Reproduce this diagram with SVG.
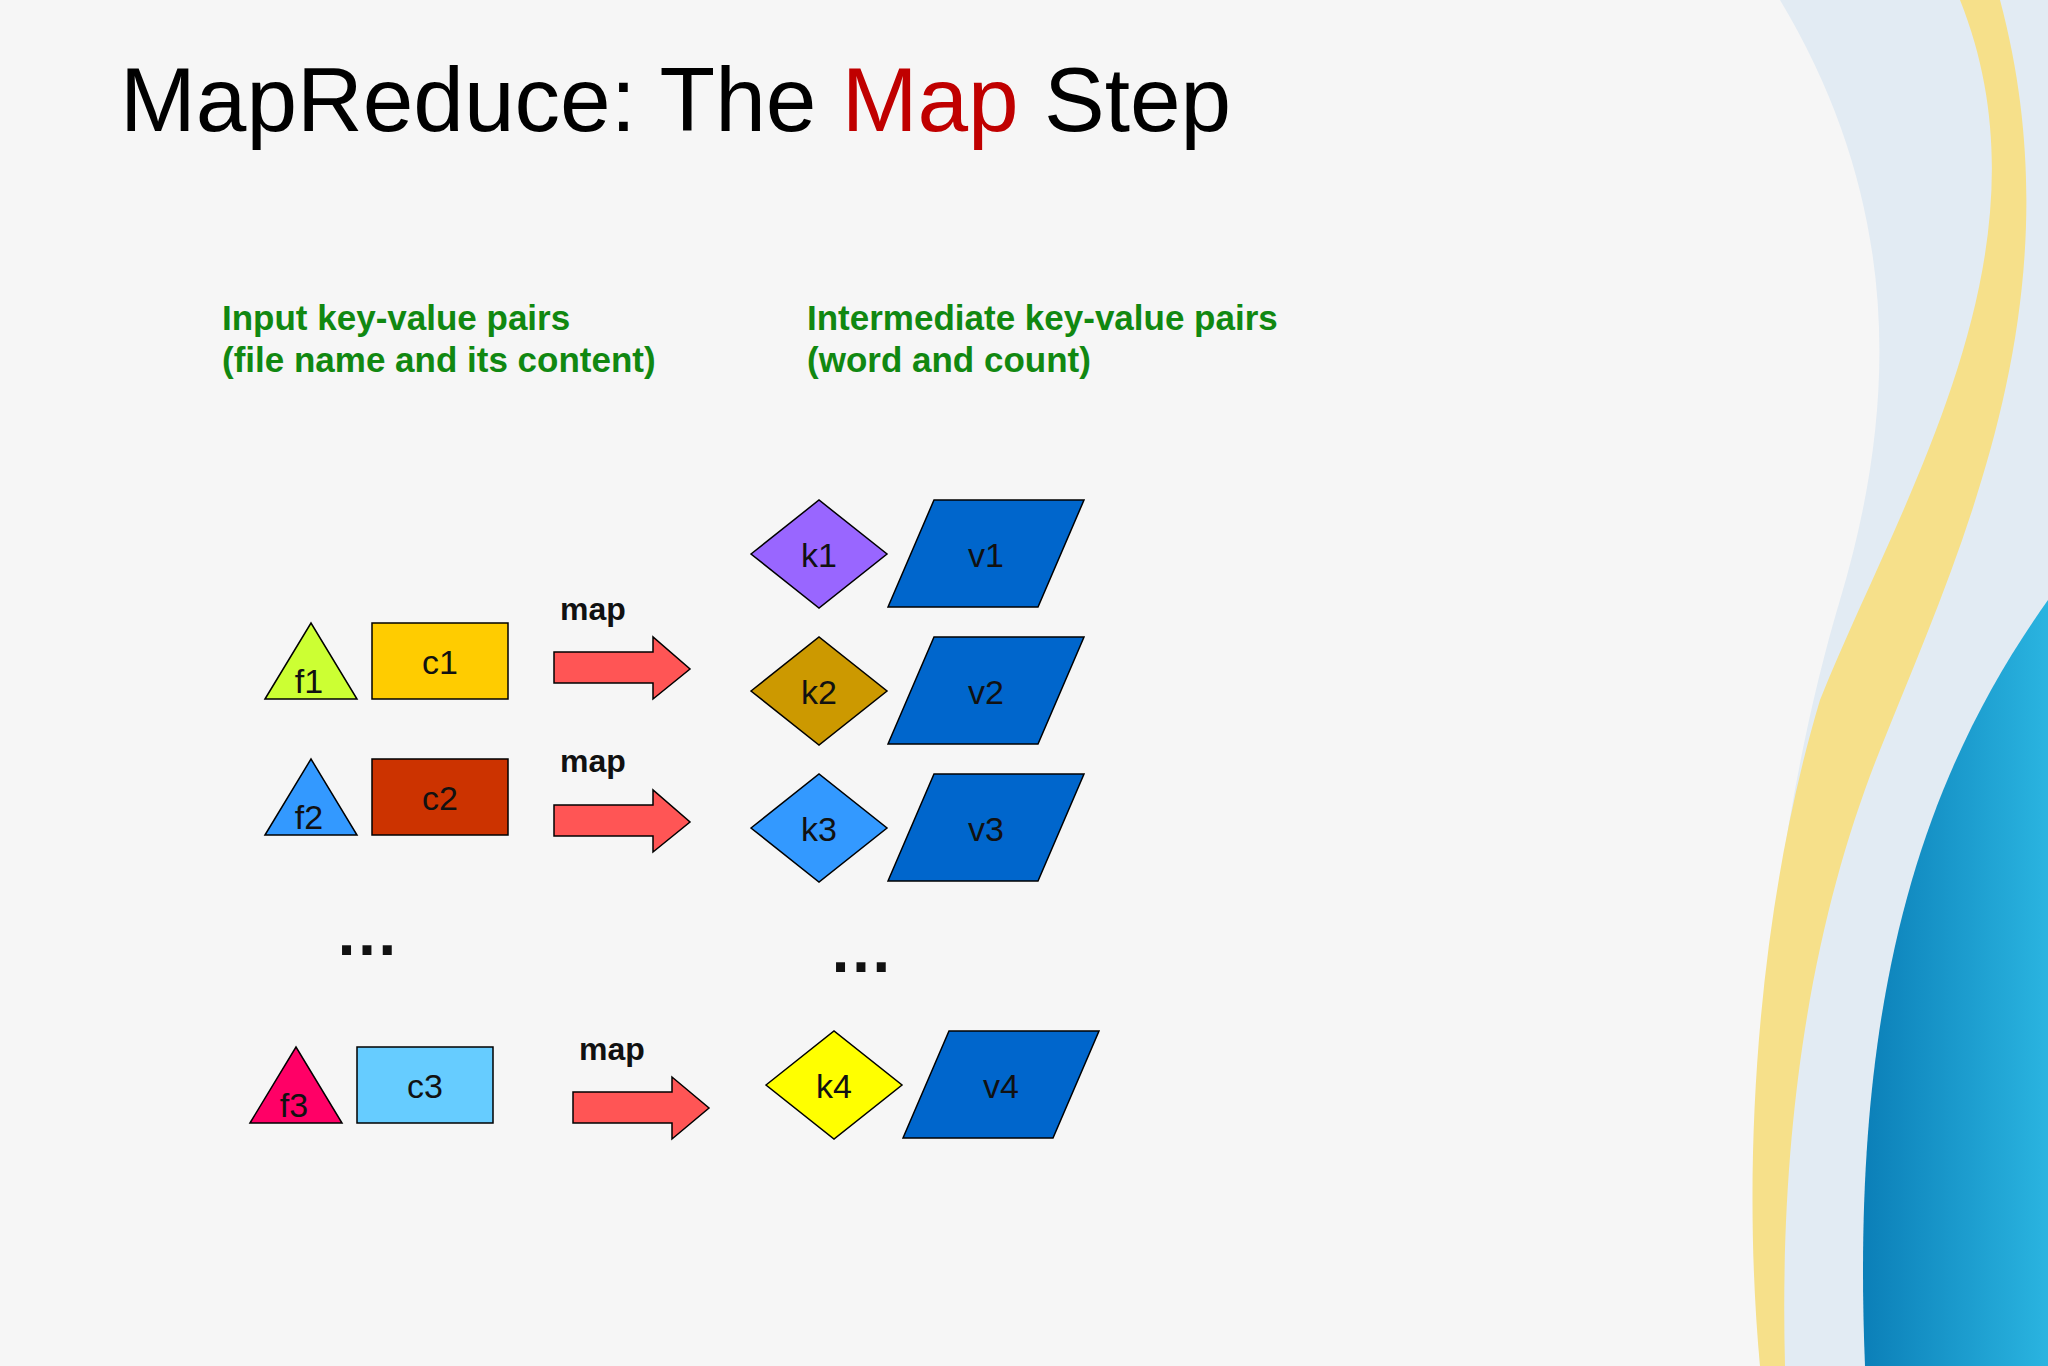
<svg xmlns="http://www.w3.org/2000/svg" width="2048" height="1366" viewBox="0 0 2048 1366">
<defs>
<linearGradient id="bl" x1="0" y1="0" x2="1" y2="0"><stop offset="0" stop-color="#0b7fb8"/><stop offset="1" stop-color="#2ab4e0"/></linearGradient>
<style>
.s{stroke:#000;stroke-width:1.5}
.t{font-family:"Liberation Sans",Arial,sans-serif;font-size:34px;fill:#111;text-anchor:middle}
.g{font-family:"Liberation Sans",Arial,sans-serif;font-size:35px;font-weight:bold;fill:#118811}
.m{font-family:"Liberation Sans",Arial,sans-serif;font-size:32px;font-weight:bold;fill:#111;text-anchor:middle}
.d{font-family:"Liberation Sans",Arial,sans-serif;font-size:64px;font-weight:bold;fill:#111;text-anchor:middle}
.v{fill:#0066cc}
.a{fill:#ff5555}
</style>
</defs>
<rect width="2048" height="1366" fill="#f6f6f6"/>
<path d="M1780 0 C1900 200 1900 400 1840 600 C1780 800 1740 1100 1760 1366 L2048 1366 L2048 0 Z" fill="#e2ebf3"/>
<path d="M1960 0 C2060 250 1900 500 1820 700 C1760 900 1740 1150 1760 1366 L1785 1366 C1778 1100 1820 900 1880 750 C1960 550 2080 300 2000 0 Z" fill="#f6e08a"/>
<path d="M2048 600 C1920 780 1850 1000 1865 1366 L2048 1366 Z" fill="url(#bl)"/>
<text x="120" y="131" font-family="Liberation Sans,Arial,sans-serif" font-size="91" fill="#000">MapReduce: The <tspan fill="#c00000">Map</tspan> Step</text>
<text class="g" x="222" y="330">Input key-value pairs</text>
<text class="g" x="222" y="372">(file name and its content)</text>
<text class="g" x="807" y="330">Intermediate key-value pairs</text>
<text class="g" x="807" y="372">(word and count)</text>
<g id="connectors">
<polygon class="a s" points="554,652 653,652 653,637 690,669 653,699 653,683 554,683"/>
<polygon class="a s" points="554,805 653,805 653,790 690,822 653,852 653,836 554,836"/>
<polygon class="a s" points="573,1092 672,1092 672,1077 709,1108 672,1139 672,1123 573,1123"/>
<text class="m" x="593" y="620">map</text>
<text class="m" x="593" y="772">map</text>
<text class="m" x="612" y="1060">map</text>
</g>
<g id="f1"><polygon class="s" fill="#ccff33" points="265,699 311,623 357,699"/><text class="t" x="309" y="693">f1</text></g>
<g id="c1"><rect class="s" fill="#ffcc00" x="372" y="623" width="136" height="76"/><text class="t" x="440" y="674">c1</text></g>
<g id="f2"><polygon class="s" fill="#3399ff" points="265,835 311,759 357,835"/><text class="t" x="309" y="829">f2</text></g>
<g id="c2"><rect class="s" fill="#cc3300" x="372" y="759" width="136" height="76"/><text class="t" x="440" y="810">c2</text></g>
<g id="f3"><polygon class="s" fill="#ff0066" points="250,1123 296,1047 342,1123"/><text class="t" x="294" y="1117">f3</text></g>
<g id="c3"><rect class="s" fill="#66ccff" x="357" y="1047" width="136" height="76"/><text class="t" x="425" y="1098">c3</text></g>
<text class="d" x="367" y="955">…</text>
<text class="d" x="861" y="972">…</text>
<g id="k1"><polygon class="s" fill="#9966ff" points="751,554 819,500 887,554 819,608"/><text class="t" x="819" y="567">k1</text></g>
<g id="v1"><polygon class="s v" points="888,607 934,500 1084,500 1038,607"/><text class="t" x="986" y="567">v1</text></g>
<g id="k2"><polygon class="s" fill="#cc9900" points="751,691 819,637 887,691 819,745"/><text class="t" x="819" y="704">k2</text></g>
<g id="v2"><polygon class="s v" points="888,744 934,637 1084,637 1038,744"/><text class="t" x="986" y="704">v2</text></g>
<g id="k3"><polygon class="s" fill="#3399ff" points="751,828 819,774 887,828 819,882"/><text class="t" x="819" y="841">k3</text></g>
<g id="v3"><polygon class="s v" points="888,881 934,774 1084,774 1038,881"/><text class="t" x="986" y="841">v3</text></g>
<g id="k4"><polygon class="s" fill="#ffff00" points="766,1085 834,1031 902,1085 834,1139"/><text class="t" x="834" y="1098">k4</text></g>
<g id="v4"><polygon class="s v" points="903,1138 949,1031 1099,1031 1053,1138"/><text class="t" x="1001" y="1098">v4</text></g>
</svg>
